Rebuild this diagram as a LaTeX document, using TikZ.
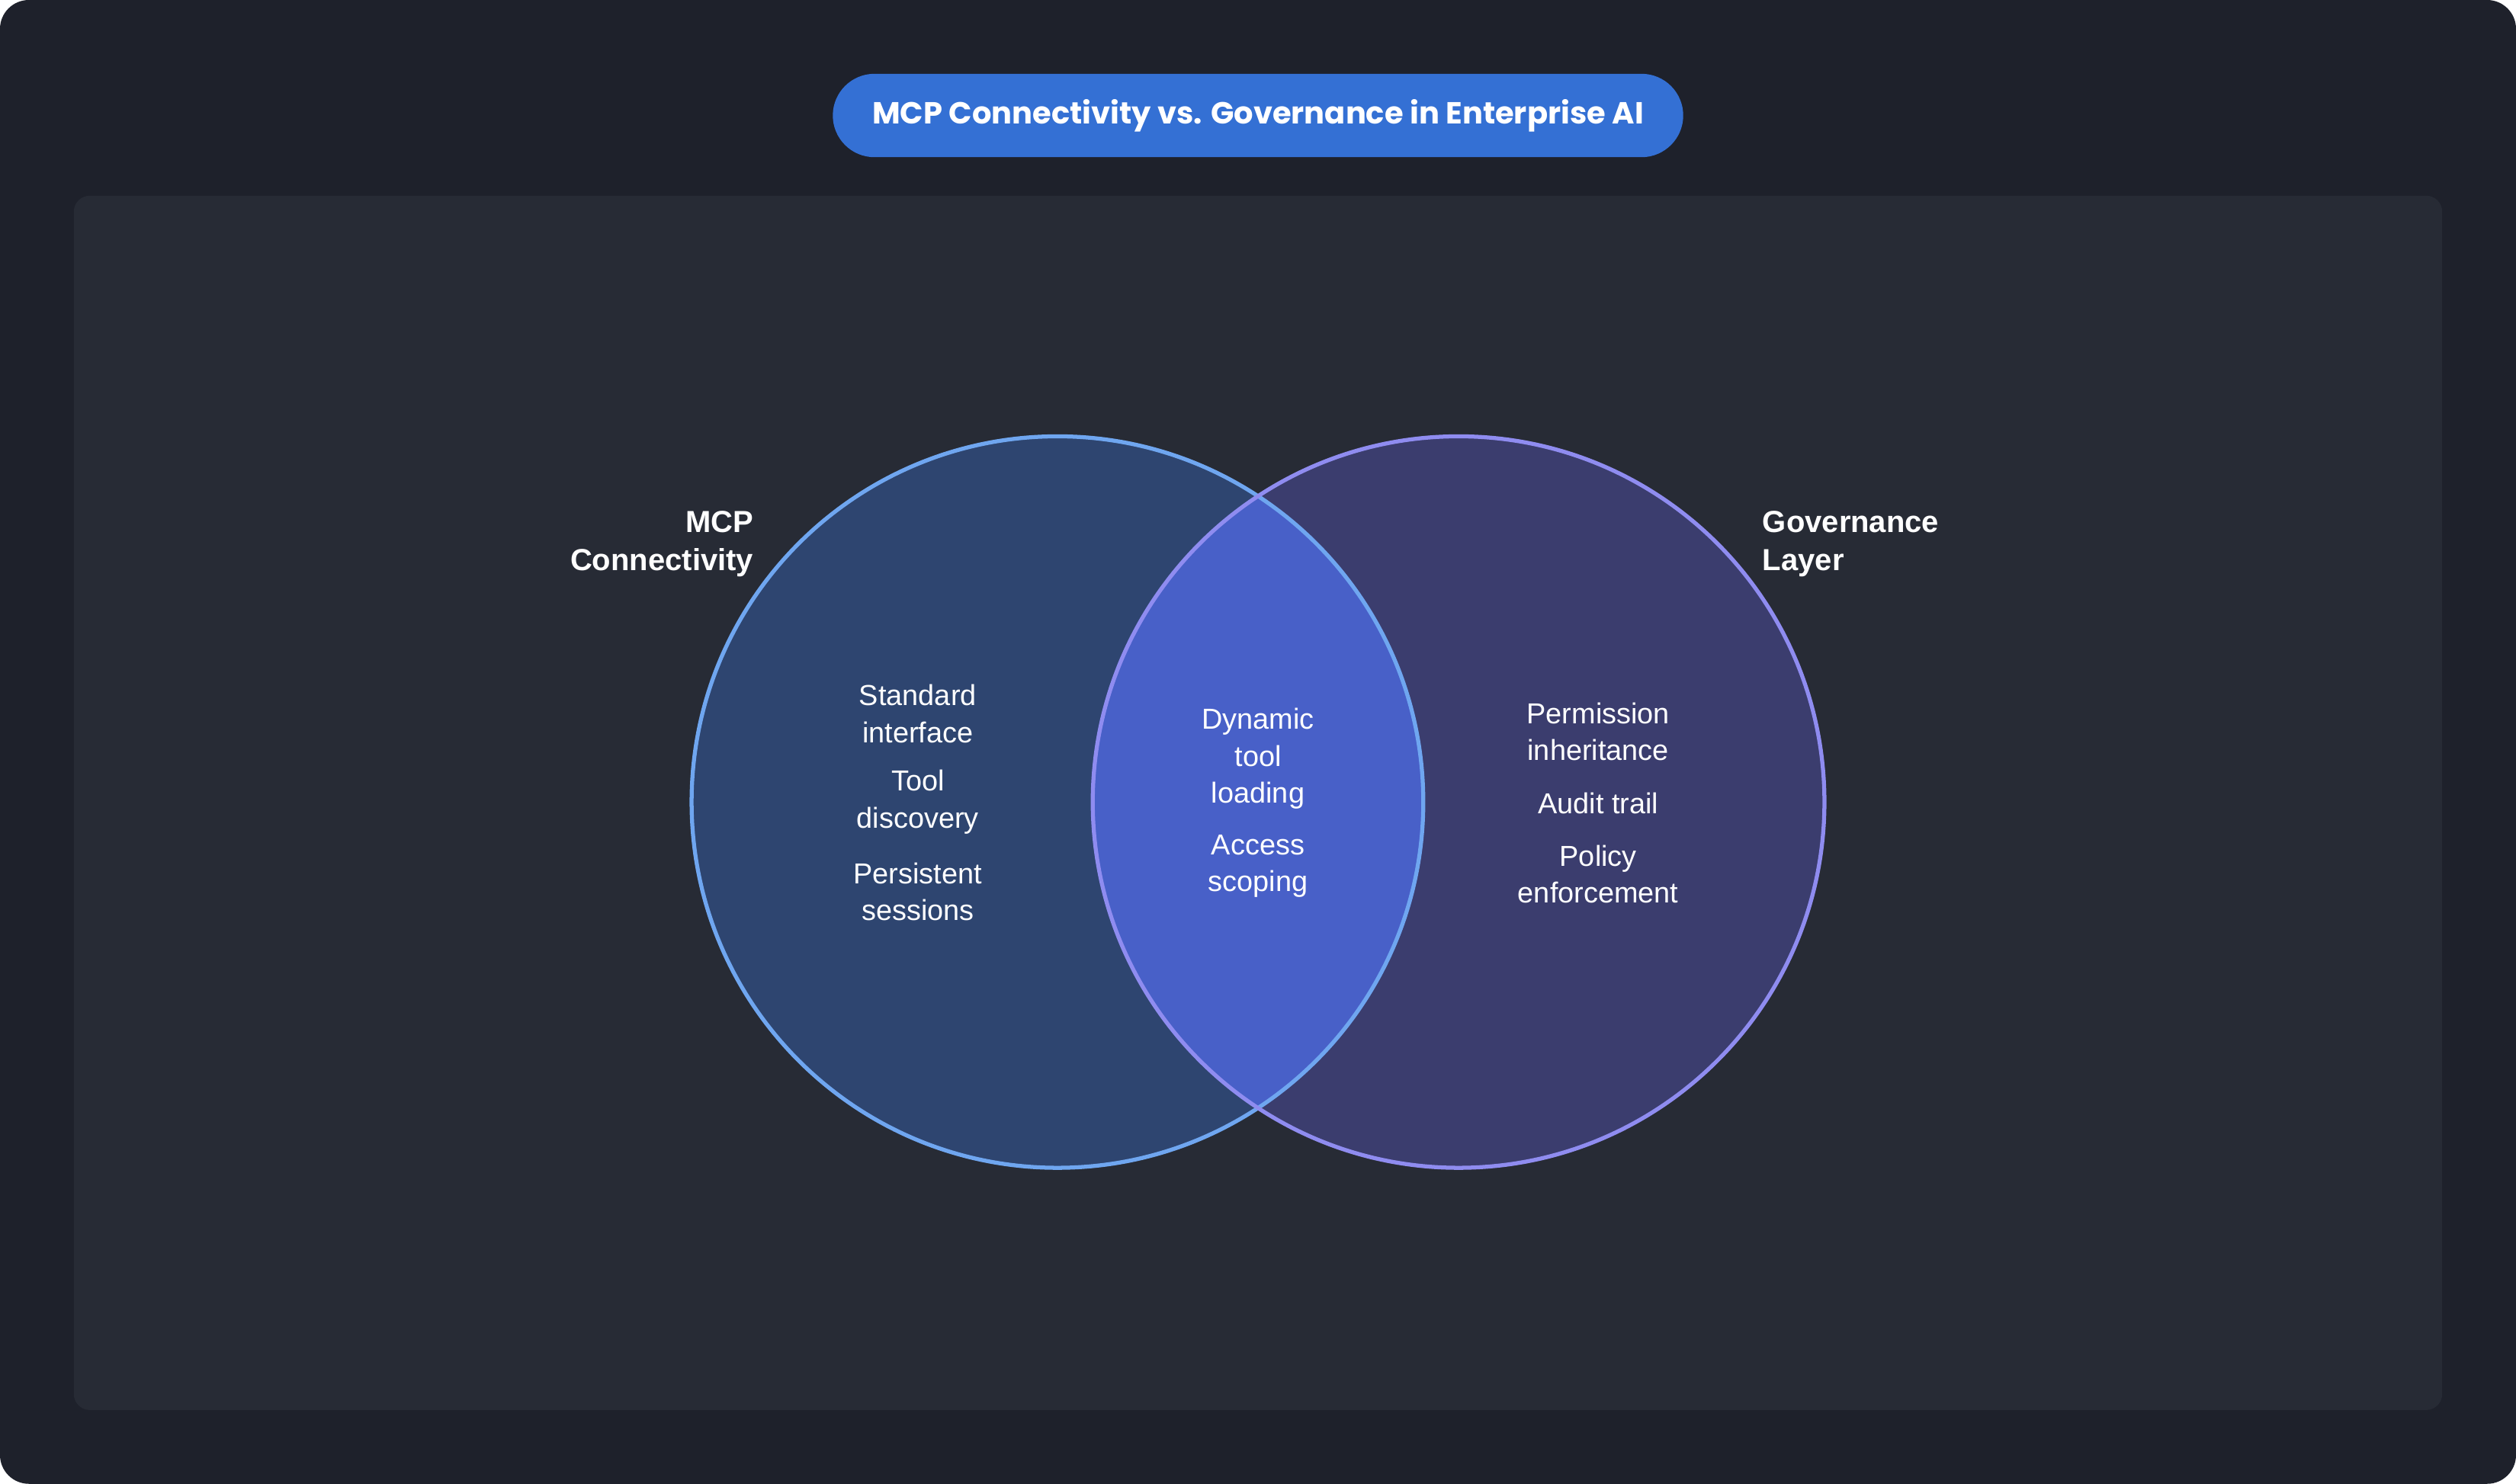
\documentclass[tikz,border=0pt]{standalone}
\usepackage{fontspec}
\setmainfont{Liberation Sans}
\newfontfamily\titlefont{Poppins}
\definecolor{pagebg}{HTML}{1E212B}
\definecolor{panelbg}{HTML}{272B35}
\definecolor{titleblue}{HTML}{3470D4}
\definecolor{mcpfill}{HTML}{2E4570}
\definecolor{mcpline}{HTML}{6FA6F0}
\definecolor{govfill}{HTML}{3B3D6E}
\definecolor{govline}{HTML}{8F8CF0}
\definecolor{bothfill}{HTML}{4860C8}
\tikzset{
  item/.style={text=white, font=\fontsize{18}{23}\selectfont, align=center},
  setlabel/.style={text=white, font=\fontsize{19}{24}\selectfont\bfseries},
}
\begin{document}
\begin{tikzpicture}[x=1pt,y=-1pt]
        \useasboundingbox (0,0) rectangle (1568,925);
        \fill[pagebg, rounded corners=18] (0,0) rectangle (1568,925);
        \fill[panelbg, rounded corners=10] (46,122) rectangle (1522,879);
        
        \node[fill=titleblue, rounded corners=26, minimum width=530, minimum height=52, text=white, font=\titlefont\fontsize{19}{23}\selectfont\bfseries] (title) at (784,72) {MCP Connectivity vs. Governance in Enterprise AI};
        
        \coordinate (L) at (659,500);
        \coordinate (R) at (909,500);
        \fill[mcpfill] (L) circle (228);
        \fill[govfill] (R) circle (228);
        \begin{scope}
          \clip (L) circle (228);
          \fill[bothfill] (R) circle (228);
        \end{scope}
        \draw[mcpline, line width=2.5] (L) circle (228);
        \draw[govline, line width=2.5] (R) circle (228);
        
        \node[setlabel, align=right, anchor=east] (mcp) at (473,339) {MCP\\Connectivity};
        \node[setlabel, align=left, anchor=west] (gov) at (1095,339) {Governance\\Layer};
        
        \node[item] (std) at (572,445) {Standard\\interface};
        \node[item] (disc) at (572,500) {Tool\\discovery};
        \node[item] (sess) at (572,556) {Persistent\\sessions};
        
        \node[item] (dyn) at (784,473) {Dynamic\\tool\\loading};
        \node[item] (acc) at (784,540) {Access\\scoping};
        
        \node[item] (perm) at (996,456) {Permission\\inheritance};
        \node[item] (audit) at (996,501) {Audit trail};
        \node[item] (pol) at (996,545) {Policy\\enforcement};
      \end{tikzpicture}
\end{document}
